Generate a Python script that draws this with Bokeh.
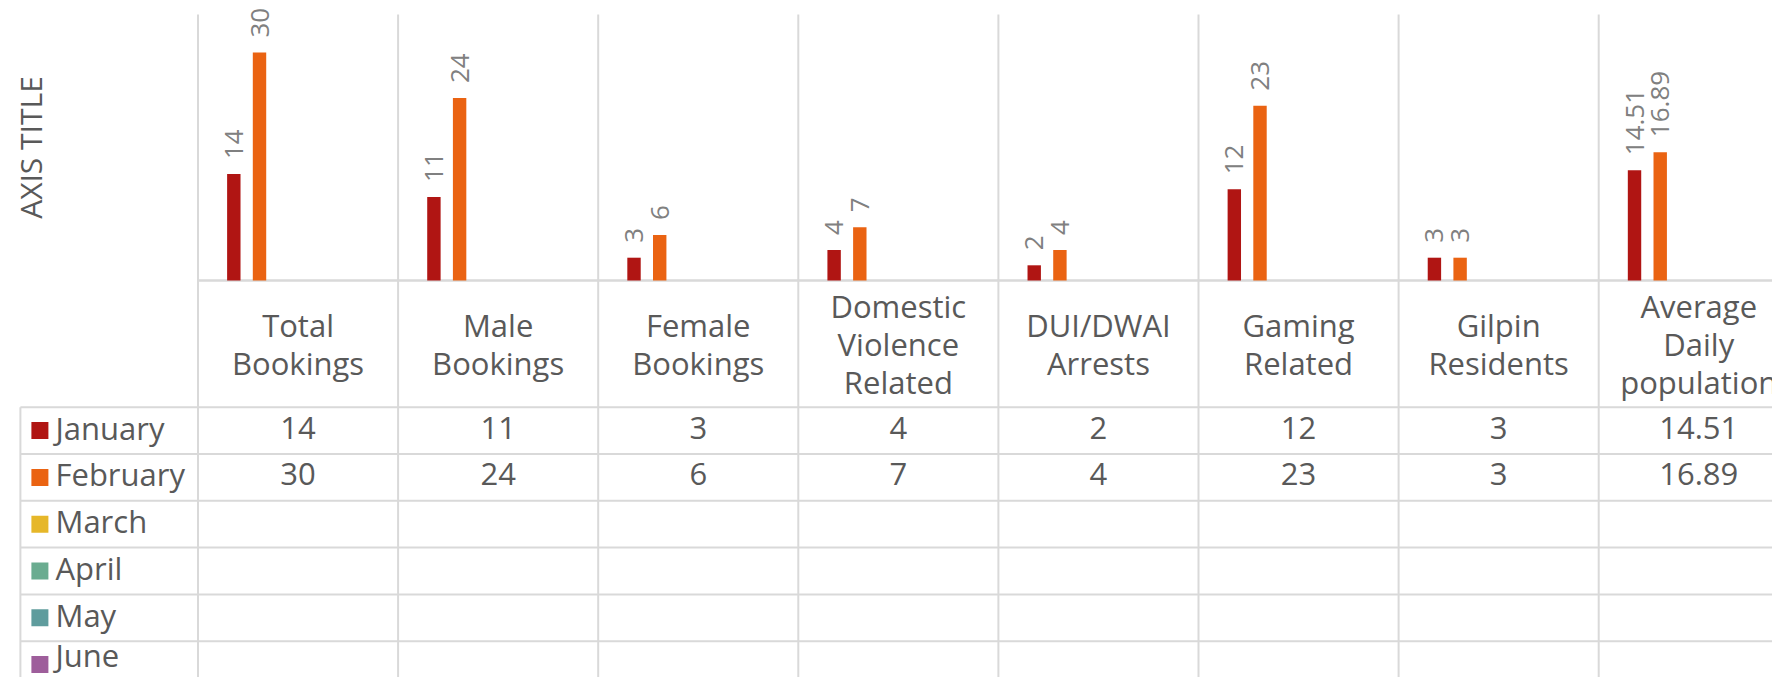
import math
from bokeh.plotting import figure
from bokeh.models import Range1d, ColumnDataSource
from bokeh.core.properties import value
from bokeh.embed import file_html
from bokeh.resources import INLINE

# ---------------- data ----------------
categories = ["Total\nBookings", "Male\nBookings", "Female\nBookings",
              "Domestic\nViolence\nRelated", "DUI/DWAI\nArrests",
              "Gaming\nRelated", "Gilpin\nResidents", "Average\nDaily\npopulation"]
months = ["January", "February", "March", "April", "May", "June"]
january = [14, 11, 3, 4, 2, 12, 3, 14.51]
february = [30, 24, 6, 7, 4, 23, 3, 16.89]
march = []
april = []
may = []
june = []
month_colors = ["#B01513", "#EA6312", "#E6B729", "#6AAC90", "#5F9C9D", "#9E5E9B"]
axis_title = "AXIS TITLE"

series = [january, february, march, april, may, june]

# ---------------- layout (pixels) ----------------
W, H = 1772, 677
CAT_LEFT = 197.5
CAT_W = 200.1
BASE = 280
PPU = 7.6
HEADER_H = 126.7
ROW_H = 46.8
GRID_TOP = 14
LEG_LEFT = 19.9
SPACING = 0.1284
BAR_W = 0.067
TEXT_LIFT = 3          # px: raise table texts a little above row centre
BOTTOM_PAD = 23        # px: keep the last row label inside the frame

FONT = value("Open Sans")
GRID_C = "#D9D9D9"
TXT_C = "#595959"
LBL_C = "#808080"

def px2x(px):
    return (px - CAT_LEFT) / CAT_W

p = figure(width=W, height=H, output_backend="svg", toolbar_location=None,
           x_range=Range1d(px2x(0), px2x(W)),
           y_range=Range1d(-(H - BASE) / PPU, BASE / PPU),
           x_axis_location=None, y_axis_location=None,
           min_border=0, outline_line_color=None, background_fill_color="white")
p.grid.visible = False
p.extra_y_ranges = {"tbl": Range1d(-(H - BASE), BASE)}

n_cat = len(categories)
n_ser = len(months)

# vertical separators
p.segment(x0=list(range(n_cat + 1)), x1=list(range(n_cat + 1)),
          y0=[BASE - GRID_TOP] * (n_cat + 1), y1=[-(H - BASE) - 5] * (n_cat + 1),
          line_color=GRID_C, line_width=2, y_range_name="tbl")
# baseline
p.segment(x0=[0], x1=[n_cat + 1], y0=[0], y1=[0], line_color=GRID_C, line_width=2.5, y_range_name="tbl")
# table horizontal lines
ys = [-(HEADER_H + ROW_H * k) for k in range(n_ser + 1)]
p.segment(x0=[px2x(LEG_LEFT)] * len(ys), x1=[n_cat + 1] * len(ys), y0=ys, y1=ys,
          line_color=GRID_C, line_width=2, y_range_name="tbl")
# left border of legend column
p.segment(x0=[px2x(LEG_LEFT)], x1=[px2x(LEG_LEFT)], y0=[-HEADER_H], y1=[-(H - BASE) - 5],
          line_color=GRID_C, line_width=2, y_range_name="tbl")

# bars and labels
for j, vals in enumerate(series):
    if not vals:
        continue
    xs = [i + 0.5 + (j - (n_ser - 1) / 2) * SPACING for i in range(len(vals))]
    src = ColumnDataSource(dict(x=xs, top=vals, lbl=[f"{v:g}" for v in vals]))
    p.vbar(x="x", top="top", bottom=0, width=BAR_W, source=src,
           fill_color=month_colors[j], line_color=None)
    p.text(x="x", y="top", text="lbl", source=src, angle=math.pi / 2,
           text_align="left", text_baseline="middle", y_offset=-15,
           text_font=FONT, text_font_size="26px", text_color=LBL_C)

# category header texts
p.text(x=[i + 0.5 for i in range(n_cat)], y=[-HEADER_H / 2] * n_cat, text=categories,
       text_align="center", text_baseline="middle", text_font=FONT,
       text_font_size="31px", text_color=TXT_C, text_line_height=0.9, y_range_name="tbl")

# legend rows
row_c = [-(HEADER_H + ROW_H * (k + 0.5)) for k in range(n_ser)]
label_y = [max(c + TEXT_LIFT, -(H - BASE) + BOTTOM_PAD) for c in row_c]
p.scatter(x=[px2x(39.4)] * n_ser, y=row_c, marker="square", size=17,
          fill_color=month_colors, line_color=None, y_range_name="tbl")
p.text(x=[px2x(55)] * n_ser, y=label_y, text=months, text_align="left",
       text_baseline="middle", text_font=FONT, text_font_size="31px",
       text_color=TXT_C, y_range_name="tbl")

# table values
tx, ty, tt = [], [], []
for j, vals in enumerate(series):
    for i, v in enumerate(vals):
        tx.append(i + 0.5)
        ty.append(label_y[j])
        tt.append(f"{v:g}")
p.text(x=tx, y=ty, text=tt, text_align="center", text_baseline="middle",
       text_font=FONT, text_font_size="31px", text_color=TXT_C, y_range_name="tbl")

# axis title
p.text(x=[px2x(29.5)], y=[(BASE - (BASE + GRID_TOP) / 2) / PPU], text=[axis_title],
       angle=math.pi / 2, text_align="center", text_baseline="middle",
       text_font=FONT, text_font_size="30px", text_color=TXT_C)

open("out.html", "w").write(file_html(p, INLINE))
